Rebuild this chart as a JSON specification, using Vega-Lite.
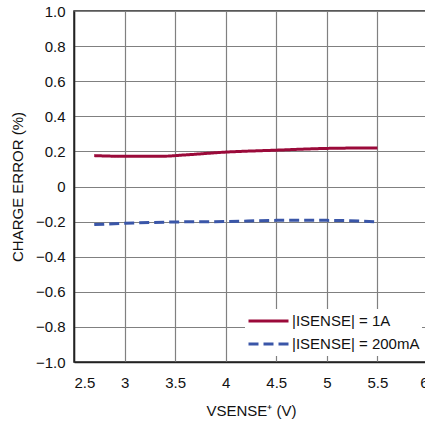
{
  "$schema": "https://vega.github.io/schema/vega-lite/v6.json",
  "width": 354,
  "height": 351,
  "padding": {"left": 10, "top": 4, "right": 0, "bottom": 5},
  "config": {
    "font": "Liberation Sans",
    "view": {"stroke": "#222222", "strokeWidth": 1.5},
    "axis": {"labelFont": "Liberation Sans", "titleFont": "Liberation Sans", "labelFontSize": 15, "titleFontSize": 15, "titleFontWeight": "normal", "labelColor": "#111111", "titleColor": "#111111", "gridColor": "#808080", "gridWidth": 1.2, "gridOpacity": 1, "domainColor": "#222222", "domainWidth": 1.5, "ticks": false}
  },
  "data": {"values": [
    {"v": 2.7, "err": 0.176, "s": "|ISENSE| = 1A"},
    {"v": 3.0, "err": 0.172, "s": "|ISENSE| = 1A"},
    {"v": 3.35, "err": 0.172, "s": "|ISENSE| = 1A"},
    {"v": 3.6, "err": 0.18, "s": "|ISENSE| = 1A"},
    {"v": 4.0, "err": 0.196, "s": "|ISENSE| = 1A"},
    {"v": 4.5, "err": 0.207, "s": "|ISENSE| = 1A"},
    {"v": 5.0, "err": 0.217, "s": "|ISENSE| = 1A"},
    {"v": 5.5, "err": 0.22, "s": "|ISENSE| = 1A"},
    {"v": 2.7, "err": -0.217, "s": "|ISENSE| = 200mA"},
    {"v": 3.0, "err": -0.21, "s": "|ISENSE| = 200mA"},
    {"v": 3.5, "err": -0.202, "s": "|ISENSE| = 200mA"},
    {"v": 4.0, "err": -0.2, "s": "|ISENSE| = 200mA"},
    {"v": 4.5, "err": -0.193, "s": "|ISENSE| = 200mA"},
    {"v": 5.0, "err": -0.193, "s": "|ISENSE| = 200mA"},
    {"v": 5.5, "err": -0.201, "s": "|ISENSE| = 200mA"}
  ]},
  "mark": {"type": "line", "interpolate": "monotone", "strokeWidth": 3},
  "encoding": {
    "x": {"field": "v", "type": "quantitative", "scale": {"domain": [2.5, 6], "nice": false}, "axis": {"values": [2.5, 3, 3.5, 4, 4.5, 5, 5.5, 6], "format": "~g", "title": "VSENSE⁺ (V)", "labelPadding": 13, "titlePadding": 13}},
    "y": {"field": "err", "type": "quantitative", "scale": {"domain": [-1, 1], "nice": false}, "axis": {"values": [-1, -0.8, -0.6, -0.4, -0.2, 0, 0.2, 0.4, 0.6, 0.8, 1], "labelExpr": "datum.value == 0 ? '0' : replace(format(datum.value, '.1f'), '-', '−')", "title": "CHARGE ERROR (%)", "labelPadding": 9, "titlePadding": 10}},
    "color": {"field": "s", "type": "nominal", "scale": {"domain": ["|ISENSE| = 1A", "|ISENSE| = 200mA"], "range": ["#9b0a3a", "#3a56a8"]}, "legend": {"title": null, "orient": "bottom-right", "offset": 6, "fillColor": "white", "padding": 2, "symbolType": "stroke", "symbolSize": 1600, "symbolStrokeWidth": 3, "labelFontSize": 15, "labelFont": "Liberation Sans", "labelColor": "#111111", "labelOffset": 2, "rowPadding": 3, "symbolOffset": 0, "labelLimit": 200, "clipHeight": 20}},
    "strokeDash": {"field": "s", "type": "nominal", "scale": {"domain": ["|ISENSE| = 1A", "|ISENSE| = 200mA"], "range": [[1, 0], [10, 5]]}, "legend": null}
  }
}
